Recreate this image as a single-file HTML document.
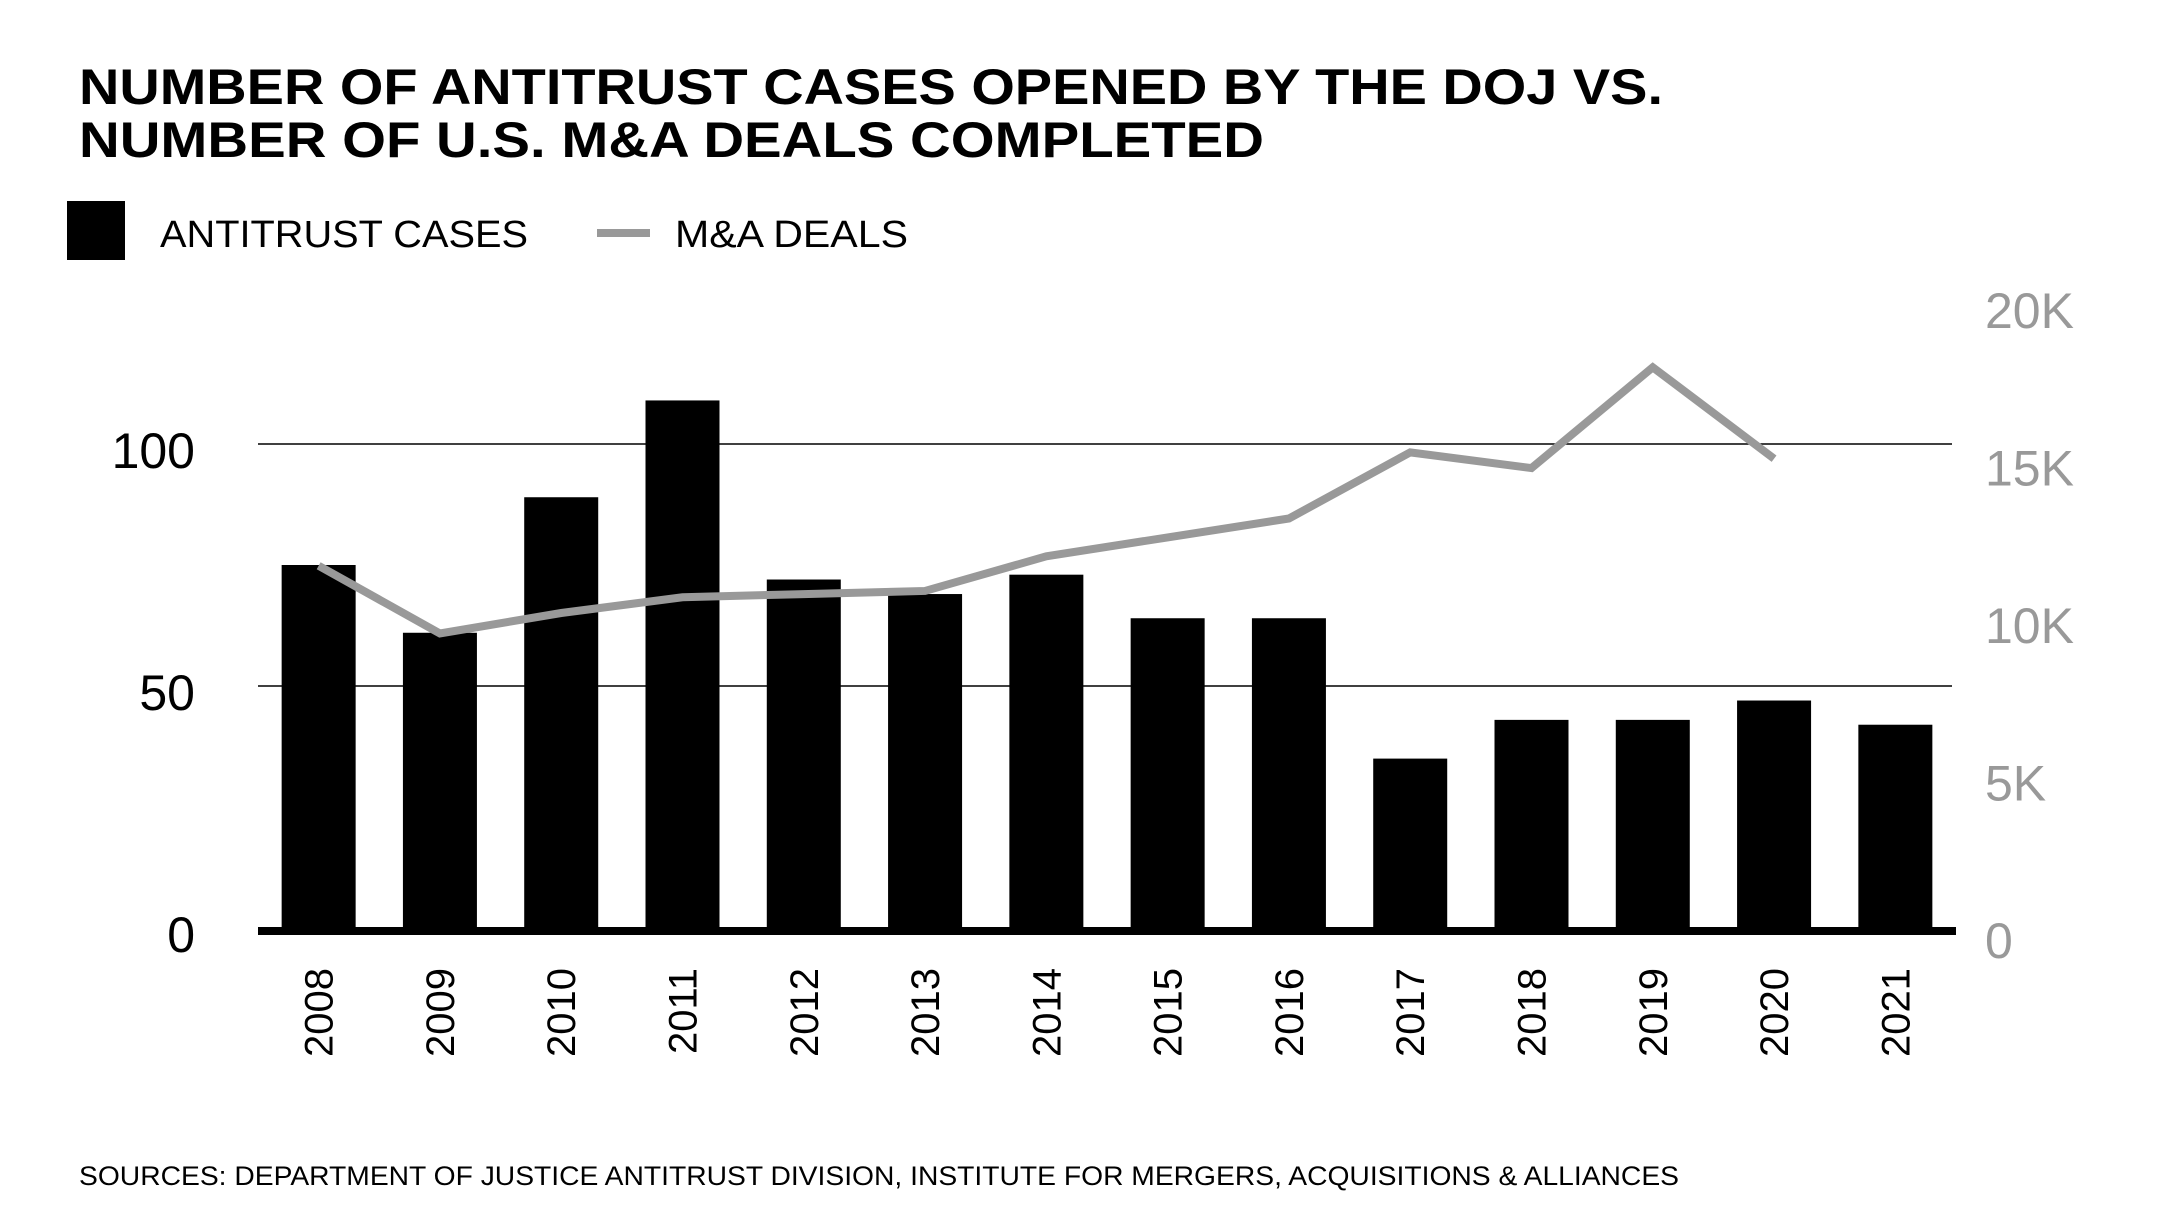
<!DOCTYPE html>
<html><head><meta charset="utf-8"><style>
html,body{margin:0;padding:0;background:#fff;}
svg{display:block;font-family:"Liberation Sans",sans-serif;}
</style></head><body>
<svg id="chart" width="2167" height="1221" viewBox="0 0 2167 1221">
<text x="79" y="104" font-size="50" font-weight="bold" textLength="1584" lengthAdjust="spacingAndGlyphs">NUMBER OF ANTITRUST CASES OPENED BY THE DOJ VS.</text>
<text x="79" y="157" font-size="50" font-weight="bold" textLength="1185" lengthAdjust="spacingAndGlyphs">NUMBER OF U.S. M&amp;A DEALS COMPLETED</text>
<rect x="67" y="201" width="58" height="59" fill="#000"/>
<text x="160" y="247" font-size="38" textLength="368" lengthAdjust="spacingAndGlyphs">ANTITRUST CASES</text>
<line x1="597" y1="233" x2="650" y2="233" stroke="#999" stroke-width="8"/>
<text x="675" y="247" font-size="38" textLength="233" lengthAdjust="spacingAndGlyphs">M&amp;A DEALS</text>
<g id="plot"></g>
<text x="79" y="1185" font-size="27" textLength="1600" lengthAdjust="spacingAndGlyphs">SOURCES: DEPARTMENT OF JUSTICE ANTITRUST DIVISION, INSTITUTE FOR MERGERS, ACQUISITIONS &amp; ALLIANCES</text>
</svg>
<script>
const years = ["2008","2009","2010","2011","2012","2013","2014","2015","2016","2017","2018","2019","2020","2021"];
const cases = [75,61,89,109,72,69,73,64,64,35,43,43,47,42];
const deals = [11500,9350,10000,10500,10600,10700,11800,12400,13000,15100,14600,17800,14900];
const leftTicks = [0,50,100];
const rightTicks = [0,5000,10000,15000,20000];
const rightTickLabels = ["0","5K","10K","15K","20K"];

const NS="http://www.w3.org/2000/svg";
const g=document.getElementById('plot');
const X0=258,X1=1956,Y0=928;
const band=(X1-X0)/years.length;
const xc=i=>X0+band*(i+0.5);
const yL=v=>Y0-v*4.84;
const yR=v=>Y0-v*0.0315;
function mk(t,a){const e=document.createElementNS(NS,t);for(const k in a)e.setAttribute(k,a[k]);g.appendChild(e);return e;}
leftTicks.forEach((v,i)=>{
  if(v>0){const l=mk('line',{x1:X0,x2:1952,y1:yL(v),y2:yL(v),stroke:'#000','stroke-width':1.5});
  
  }
  const t=mk('text',{x:195,y:yL(v)+24,'font-size':50,'text-anchor':'end'});t.textContent=v;
  
  
});
rightTicks.forEach((v,i)=>{
  const t=mk('text',{x:1985,y:yR(v)+30,'font-size':50,fill:'#999'});t.textContent=rightTickLabels[i];
  
  
});
cases.forEach((v,i)=>{
  const r=mk('rect',{x:xc(i)-37,y:yL(v),width:74,height:Y0-yL(v),fill:'#000'});
  
  
  const cx=xc(i)+14,cy=968;
  const t=mk('text',{x:cx,y:cy,'font-size':40,'text-anchor':'end',transform:`rotate(-90 ${cx} ${cy})`});t.textContent=years[i];
  
  
});
const ax=mk('line',{x1:X0,x2:X1,y1:Y0+3,y2:Y0+3,stroke:'#000','stroke-width':8});


const pts=deals.map((v,i)=>xc(i)+','+yR(v)).join(' ');
const pl=mk('polyline',{points:pts,fill:'none',stroke:'#999','stroke-width':8,'stroke-linejoin':'miter'});


</script>
</body></html>
